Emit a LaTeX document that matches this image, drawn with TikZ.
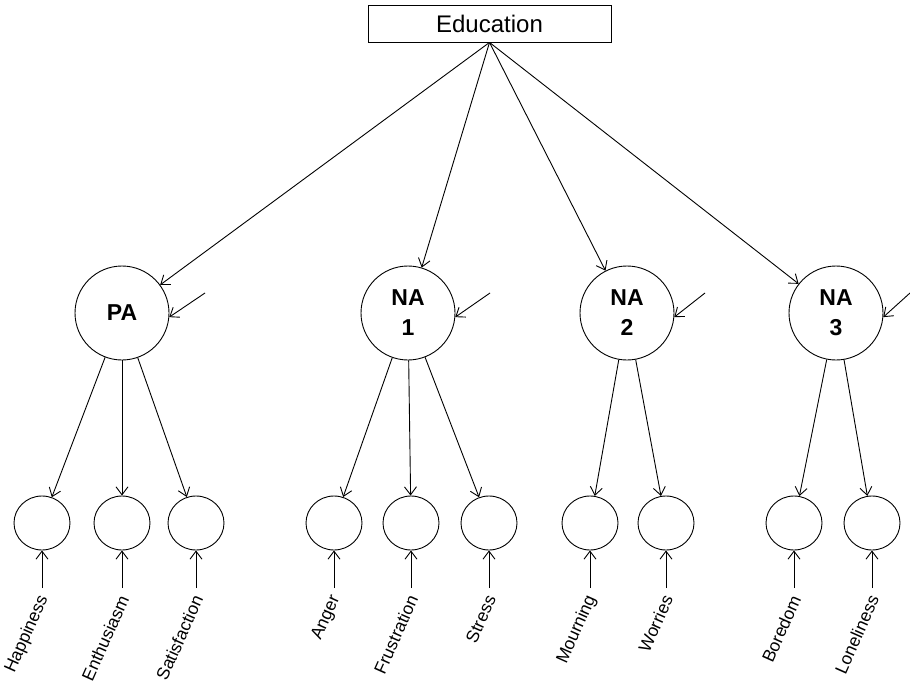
\documentclass[tikz,border=0pt]{standalone}
\usepackage{fontspec}
\setmainfont{Liberation Sans}
\usetikzlibrary{arrows.meta, calc, shapes.geometric}

\begin{document}
\begin{tikzpicture}[x=1pt, y=1pt, line width=0.9pt,
    latent/.style={draw, circle, minimum size=94pt, inner sep=0pt, align=center,
      font=\fontsize{23}{30}\selectfont\bfseries},
    indicator/.style={draw, ellipse, minimum width=56pt, minimum height=54pt, inner sep=0pt},
    item/.style={anchor=east, rotate=66, inner sep=0pt, font=\fontsize{17.5}{20}\selectfont},
    path/.style={-{Straight Barb[length=8pt,width=12pt]}}]
            \useasboundingbox (0,0) rectangle (910,-682);
            \node[draw, minimum width=243pt, minimum height=37pt,
              font=\fontsize{24}{26}\selectfont] (edu) at (489.5,-23.5) {Education};

            % latent factors
            \node[latent] (PA) at (122,-313) {PA};
            \node[latent] (NAa) at (408,-313) {NA\\1};
            \node[latent] (NAb) at (627,-313) {NA\\2};
            \node[latent] (NAc) at (836,-313) {NA\\3};

            % indicators
            \node[indicator] (hap) at (42,-523) {};
            \node[indicator] (ent) at (122,-523) {};
            \node[indicator] (sat) at (196,-523) {};
            \node[indicator] (ang) at (334,-523) {};
            \node[indicator] (fru) at (411,-523) {};
            \node[indicator] (str) at (489,-523) {};
            \node[indicator] (mou) at (590,-523) {};
            \node[indicator] (wor) at (666,-523) {};
            \node[indicator] (bor) at (794,-523) {};
            \node[indicator] (lon) at (872,-523) {};

            % error terms
            \coordinate (ePA) at ($(PA)+(83,20)$);
            \coordinate (eNAa) at ($(NAa)+(82,20)$);
            \coordinate (eNAb) at ($(NAb)+(78,20)$);
            \coordinate (eNAc) at ($(NAc)+(74,20)$);
            \coordinate (ehap) at (42,-588);
            \coordinate (eent) at (122,-588);
            \coordinate (esat) at (196,-588);
            \coordinate (eang) at (334,-588);
            \coordinate (efru) at (411,-588);
            \coordinate (estr) at (489,-588);
            \coordinate (emou) at (590,-588);
            \coordinate (ewor) at (666,-588);
            \coordinate (ebor) at (794,-588);
            \coordinate (elon) at (872,-588);

            \draw[path] (edu.south) -- (PA);
            \draw[path] (edu.south) -- (NAa);
            \draw[path] (edu.south) -- (NAb);
            \draw[path] (edu.south) -- (NAc);

            \draw[path] (PA) -- (hap);
            \draw[path] (PA) -- (ent);
            \draw[path] (PA) -- (sat);
            \draw[path] (NAa) -- (ang);
            \draw[path] (NAa) -- (fru);
            \draw[path] (NAa) -- (str);
            \draw[path] (NAb) -- (mou);
            \draw[path] (NAb) -- (wor);
            \draw[path] (NAc) -- (bor);
            \draw[path] (NAc) -- (lon);

            \draw[path] (ePA) -- (PA.-5);
            \draw[path] (eNAa) -- (NAa.-5);
            \draw[path] (eNAb) -- (NAb.-5);
            \draw[path] (eNAc) -- (NAc.-5);
            \draw[path] (ehap) -- (hap.south);
            \draw[path] (eent) -- (ent.south);
            \draw[path] (esat) -- (sat.south);
            \draw[path] (eang) -- (ang.south);
            \draw[path] (efru) -- (fru.south);
            \draw[path] (estr) -- (str.south);
            \draw[path] (emou) -- (mou.south);
            \draw[path] (ewor) -- (wor.south);
            \draw[path] (ebor) -- (bor.south);
            \draw[path] (elon) -- (lon.south);

            % labels
            \node[item] (lhap) at (44,-596) {Happiness};
            \node[item] (lent) at (124,-596) {Enthusiasm};
            \node[item] (lsat) at (198,-596) {Satisfaction};
            \node[item] (lang) at (336,-596) {Anger};
            \node[item] (lfru) at (413,-596) {Frustration};
            \node[item] (lstr) at (491,-596) {Stress};
            \node[item] (lmou) at (592,-596) {Mourning};
            \node[item] (lwor) at (668,-596) {Worries};
            \node[item] (lbor) at (796,-596) {Boredom};
            \node[item] (llon) at (874,-596) {Loneliness};
        \end{tikzpicture}
\end{document}
